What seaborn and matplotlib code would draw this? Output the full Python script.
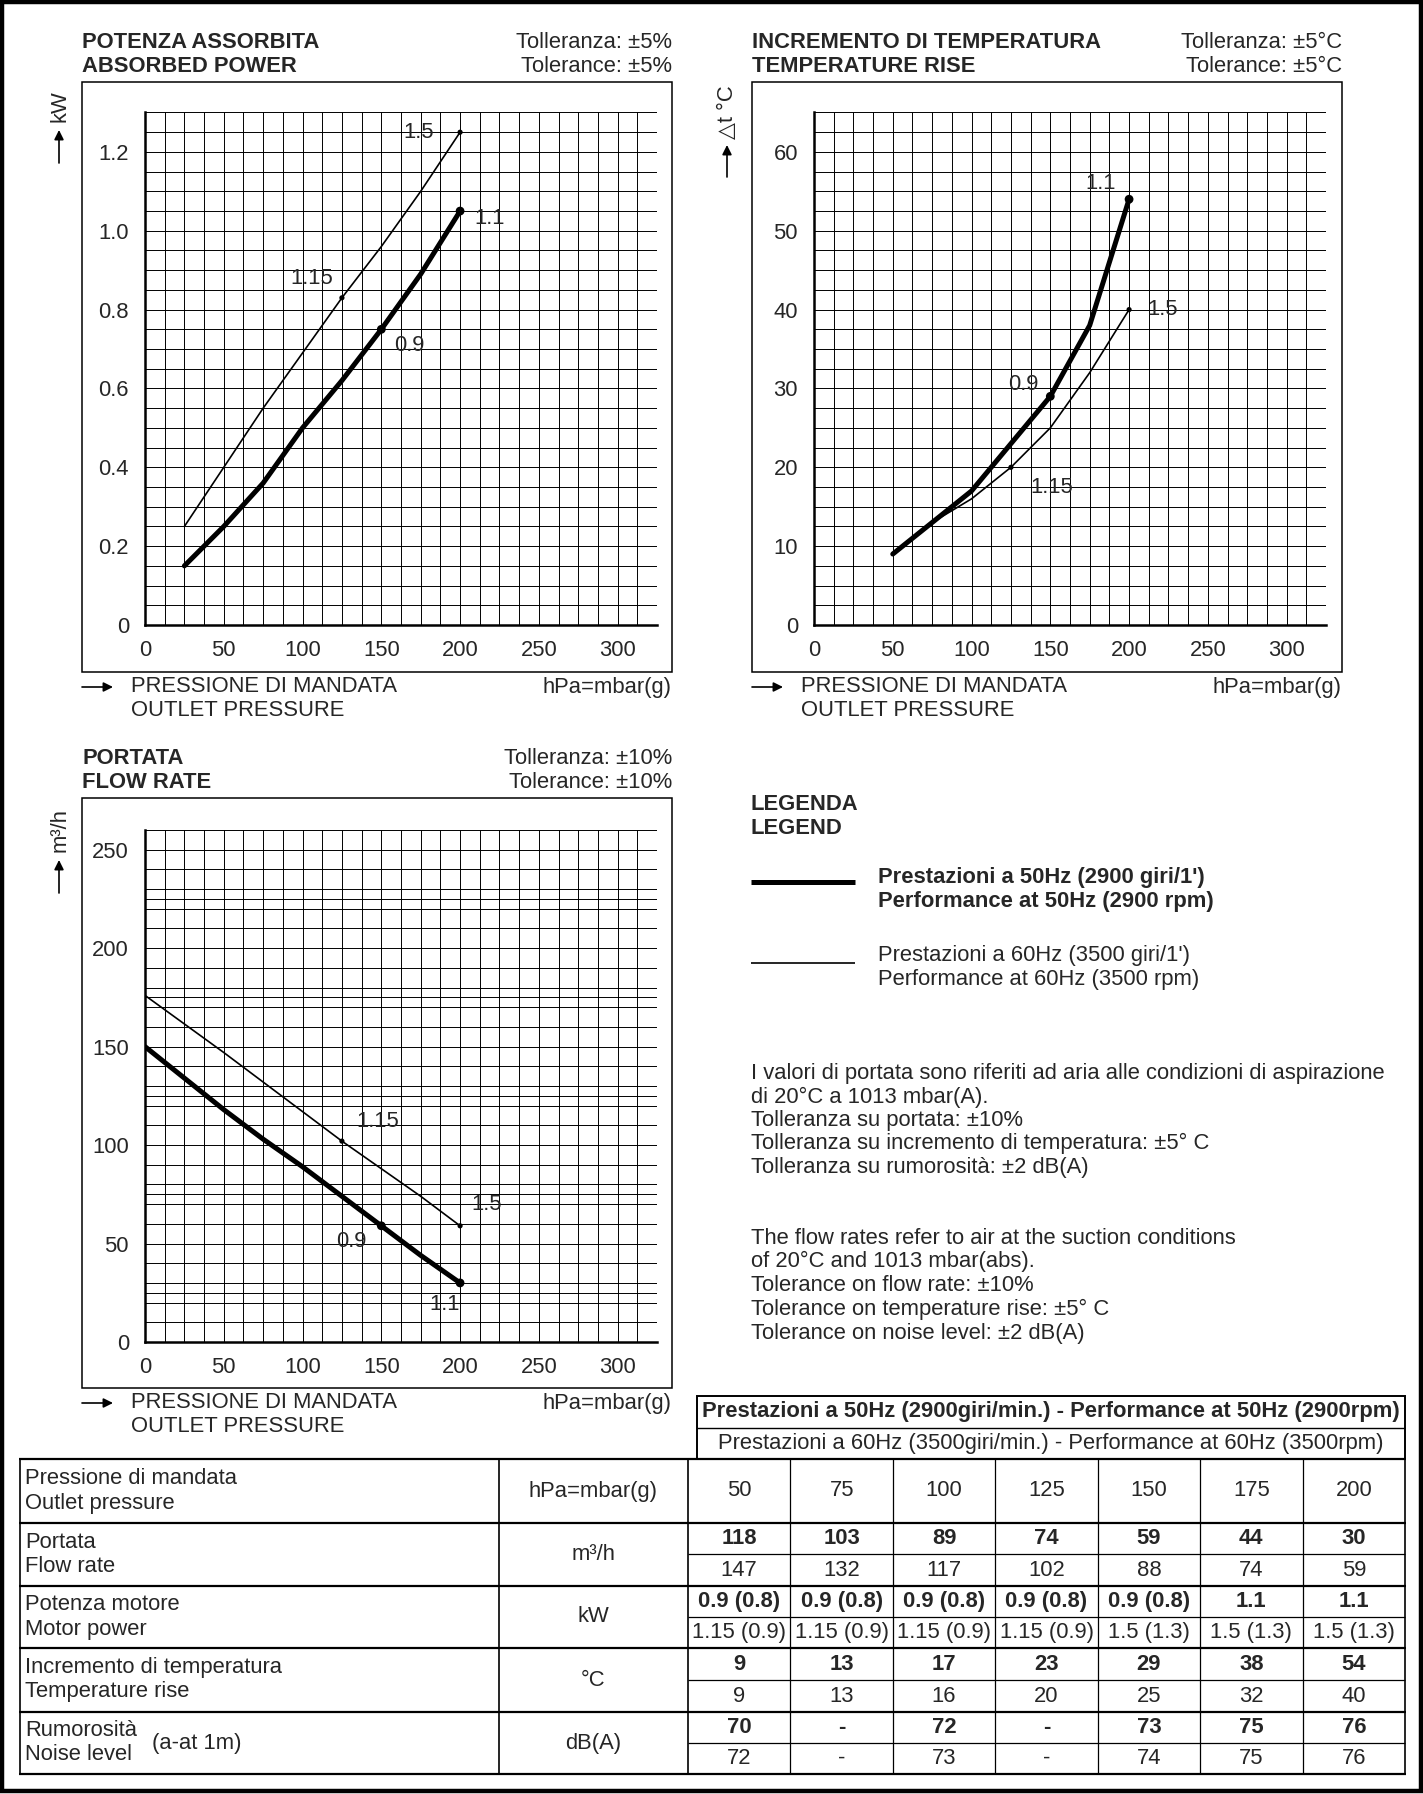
import matplotlib
matplotlib.use("Agg")
import matplotlib.pyplot as plt
import numpy as np
import pandas as pd
import seaborn as sns
from matplotlib.patches import Rectangle

W, H = 1423, 1794

# ---- curve data ----
power_pressure = [25, 50, 75, 100, 125, 150, 175, 200]
power_50 = [0.15, 0.25, 0.36, 0.50, 0.62, 0.75, 0.89, 1.05]
power_60 = [0.25, 0.40, 0.55, 0.69, 0.83, 0.96, 1.10, 1.25]

temp_pressure = [50, 75, 100, 125, 150, 175, 200]
temp_50 = [9, 13, 17, 23, 29, 38, 54]
temp_60 = [9, 13, 16, 20, 25, 32, 40]

flow_pressure = [0, 50, 75, 100, 125, 150, 175, 200]
flow_50 = [150, 118, 103, 89, 74, 59, 44, 30]
flow_60 = [176, 147, 132, 117, 102, 88, 74, 59]

# pressures where the motor size changes (dots on the curves)
dots_50 = [150, 200]
dots_60 = [125, 200]

# motor size labels: (pressure, value, text)
power_labels = [(174, 1.25, "1.5"), (219, 1.03, "1.1"), (106, 0.88, "1.15"), (168, 0.71, "0.9")]
temp_labels = [(182, 56, "1.1"), (221, 40, "1.5"), (133, 30.5, "0.9"), (151, 17.5, "1.15")]
flow_labels = [(148, 112, "1.15"), (217, 70, "1.5"), (131, 51, "0.9"), (190, 19, "1.1")]

# ---- table data ----
table_pressure = ["50", "75", "100", "125", "150", "175", "200"]
table_flow_50 = ["118", "103", "89", "74", "59", "44", "30"]
table_flow_60 = ["147", "132", "117", "102", "88", "74", "59"]
table_motor_50 = ["0.9 (0.8)", "0.9 (0.8)", "0.9 (0.8)", "0.9 (0.8)", "0.9 (0.8)", "1.1", "1.1"]
table_motor_60 = ["1.15 (0.9)", "1.15 (0.9)", "1.15 (0.9)", "1.15 (0.9)", "1.5 (1.3)", "1.5 (1.3)", "1.5 (1.3)"]
table_temp_50 = ["9", "13", "17", "23", "29", "38", "54"]
table_temp_60 = ["9", "13", "16", "20", "25", "32", "40"]
table_noise_50 = ["70", "-", "72", "-", "73", "75", "76"]
table_noise_60 = ["72", "-", "73", "-", "74", "75", "76"]

sns.set_style("white")
plt.rcParams["font.family"] = ["Liberation Sans", "DejaVu Sans"]
FS = 15.8

fig = plt.figure(figsize=(W / 100, H / 100), dpi=100)

# overlay in pixel coordinates for frames, texts and table
ov = fig.add_axes([0, 0, 1, 1])
ov.set_xlim(0, W)
ov.set_ylim(H, 0)
ov.axis("off")


def txt(x, y, s, **kw):
    kw.setdefault("fontsize", FS)
    kw.setdefault("va", "center")
    ov.text(x, y, s, **kw)


def hline(x0, x1, y, lw=1.0):
    ov.plot([x0, x1], [y, y], color="black", lw=lw, solid_capstyle="butt")


def vline(x, y0, y1, lw=1.0):
    ov.plot([x, x], [y0, y1], color="black", lw=lw, solid_capstyle="butt")


def arrow(x0, y0, x1, y1):
    ov.annotate("", xy=(x1, y1), xytext=(x0, y0),
                arrowprops=dict(arrowstyle="-|>", color="black", lw=1.2,
                                mutation_scale=14, shrinkA=0, shrinkB=0))


def chart(box, axbox, title, tol, x, y50, y60, ymax, ystep, ytick_step,
          ylabel_step, yfmt, labels):
    bl, bt, br, bb = box
    ov.add_patch(Rectangle((bl, bt), br - bl, bb - bt, fill=False, lw=1.1, ec="black"))
    txt(bl, bt - 39, title[0], fontweight="bold")
    txt(bl, bt - 16, title[1], fontweight="bold")
    txt(br, bt - 39, "Tolleranza: " + tol, ha="right")
    txt(br, bt - 16, "Tolerance: " + tol, ha="right")
    # x label under the box
    arrow(bl, bb + 15, bl + 31, bb + 15)
    txt(bl + 49, bb + 15, "PRESSIONE DI MANDATA")
    txt(bl + 49, bb + 39, "OUTLET PRESSURE")
    txt(br, bb + 15, "hPa=mbar(g)", ha="right")

    l, t, r, b = axbox
    ax = fig.add_axes([l / W, 1 - b / H, (r - l) / W, (b - t) / H])
    ax.set_facecolor("white")
    df = pd.DataFrame({"p": x, "v50": y50, "v60": y60})
    sns.lineplot(data=df, x="p", y="v60", ax=ax, color="black", lw=1.2, zorder=3)
    sns.lineplot(data=df, x="p", y="v50", ax=ax, color="black", lw=3.6, zorder=4)
    d50 = df[df["p"].isin(dots_50)]
    d60 = df[df["p"].isin(dots_60)]
    sns.scatterplot(data=d50, x="p", y="v50", ax=ax, color="black", s=40, zorder=5, edgecolor="none")
    sns.scatterplot(data=d60, x="p", y="v60", ax=ax, color="black", s=14, zorder=5, edgecolor="none")
    for lx, ly, s in labels:
        ax.text(lx, ly, s, fontsize=FS, ha="center", va="center", zorder=6)

    ax.set_xlim(0, 325)
    ax.set_ylim(0, ymax)
    xt = np.arange(0, 326, 25)
    ax.set_xticks(xt)
    ax.set_xticklabels([f"{v:g}" if v % 50 == 0 and v <= 300 else "" for v in xt])
    ax.set_xticks(np.arange(0, 325.1, 12.5), minor=True)
    yt = np.round(np.arange(0, ymax + 1e-9, ytick_step), 6)
    ax.set_yticks(yt)
    ylabels = []
    for v in yt:
        k = v / ylabel_step
        ylabels.append(yfmt(v) if abs(k - round(k)) < 1e-6 else "")
    ax.set_yticklabels(ylabels)
    ax.set_yticks(np.arange(0, ymax + 1e-9, ystep), minor=True)
    ax.grid(which="both", color="black", lw=0.7)
    ax.tick_params(axis="x", which="major", direction="out", length=6, width=0.8,
                   pad=5, labelsize=FS, color="black")
    ax.tick_params(axis="y", which="major", direction="out", length=7.5, width=0.8,
                   pad=4, labelsize=FS, color="black")
    ax.tick_params(which="minor", length=0)
    for side in ["top", "right"]:
        ax.spines[side].set_visible(False)
    for side in ["left", "bottom"]:
        ax.spines[side].set_linewidth(1.8)
        ax.spines[side].set_color("black")
    ax.set_xlabel("")
    ax.set_ylabel("")
    return ax


chart((82, 82, 672, 672), (145, 112.5, 657, 625),
      ("POTENZA ASSORBITA", "ABSORBED POWER"), "±5%",
      power_pressure, power_50, power_60, 1.3, 0.05, 0.1, 0.2,
      lambda v: "0" if v == 0 else f"{v:.1f}", power_labels)
chart((752, 82, 1342, 672), (814, 112.5, 1326, 625),
      ("INCREMENTO DI TEMPERATURA", "TEMPERATURE RISE"), "±5°C",
      temp_pressure, temp_50, temp_60, 65, 2.5, 5, 10,
      lambda v: f"{v:g}", temp_labels)
chart((82, 798, 672, 1388), (145, 830, 657, 1342),
      ("PORTATA", "FLOW RATE"), "±10%",
      flow_pressure, flow_50, flow_60, 260, 10, 25, 50,
      lambda v: f"{v:g}", flow_labels)

# y axis labels with arrows
arrow(59, 163, 59, 130)
txt(60, 106, "kW", rotation=90, ha="center")
arrow(727, 177, 727, 145)
txt(728, 112, "△t °C", rotation=90, ha="center")
arrow(59, 893, 59, 860)
txt(60, 830, "m³/h", rotation=90, ha="center")

# legend block
txt(751, 805, "LEGENDA", fontweight="bold")
txt(751, 829, "LEGEND", fontweight="bold")
hline(751, 855, 882, lw=3.6)
txt(878, 877, "Prestazioni a 50Hz (2900 giri/1')", fontweight="bold")
txt(878, 901, "Performance at 50Hz (2900 rpm)", fontweight="bold")
hline(751, 855, 963, lw=1.2)
txt(878, 955, "Prestazioni a 60Hz (3500 giri/1')")
txt(878, 979, "Performance at 60Hz (3500 rpm)")

notes_it = ["I valori di portata sono riferiti ad aria alle condizioni di aspirazione",
            "di 20°C a 1013 mbar(A).",
            "Tolleranza su portata: ±10%",
            "Tolleranza su incremento di temperatura: ±5° C",
            "Tolleranza su rumorosità: ±2 dB(A)"]
notes_en = ["The flow rates refer to air at the suction conditions",
            "of 20°C and 1013 mbar(abs).",
            "Tolerance on flow rate: ±10%",
            "Tolerance on temperature rise: ±5° C",
            "Tolerance on noise level: ±2 dB(A)"]
for i, s in enumerate(notes_it):
    txt(751, 1074 + i * 23.3, s)
for i, s in enumerate(notes_en):
    txt(751, 1238 + i * 23.8, s)

# ---- table ----
tx0, tx_unit, tx_val, tx1 = 20, 499, 688, 1405
row_y = [1459, 1523, 1586, 1648, 1712, 1774]
col_x = np.linspace(tx_val, tx1, len(table_pressure) + 1)

# header box
ov.add_patch(Rectangle((697, 1396), tx1 - 697, 1459 - 1396, fill=False, lw=1.4, ec="black"))
hline(697, tx1, 1428, lw=1.0)
txt((697 + tx1) / 2, 1412, "Prestazioni a 50Hz (2900giri/min.) - Performance at 50Hz (2900rpm)",
    ha="center", fontweight="bold", fontsize=FS)
txt((697 + tx1) / 2, 1444, "Prestazioni a 60Hz (3500giri/min.) - Performance at 60Hz (3500rpm)",
    ha="center", fontsize=FS)

for y in row_y:
    hline(tx0 - 1, tx1 + 1, y, lw=1.6)
for y0, y1 in zip(row_y[1:-1], row_y[2:]):
    hline(tx_val, tx1, (y0 + y1) / 2, lw=0.9)
for x in [tx0, tx_unit, tx_val, tx1]:
    vline(x, row_y[0], row_y[-1], lw=1.2)
for x in col_x[1:-1]:
    vline(x, row_y[0], row_y[-1], lw=0.9)

row_names = [("Pressione di mandata", "Outlet pressure"), ("Portata", "Flow rate"),
             ("Potenza motore", "Motor power"), ("Incremento di temperatura", "Temperature rise"),
             ("Rumorosità", "Noise level")]
row_units = ["hPa=mbar(g)", "m³/h", "kW", "°C", "dB(A)"]
for i, (a, b) in enumerate(row_names):
    yc = (row_y[i] + row_y[i + 1]) / 2
    txt(25, yc - 12, a)
    txt(25, yc + 12, b)
    txt((tx_unit + tx_val) / 2, yc, row_units[i], ha="center")
txt(152, (row_y[4] + row_y[5]) / 2, "(a-at 1m)")

centers = (col_x[:-1] + col_x[1:]) / 2
for j, v in enumerate(table_pressure):
    txt(centers[j], (row_y[0] + row_y[1]) / 2, v, ha="center")
pairs = [(table_flow_50, table_flow_60), (table_motor_50, table_motor_60),
         (table_temp_50, table_temp_60), (table_noise_50, table_noise_60)]
for i, (top, bot) in enumerate(pairs):
    y0, y1 = row_y[i + 1], row_y[i + 2]
    ym = (y0 + y1) / 2
    for j in range(len(top)):
        txt(centers[j], (y0 + ym) / 2, top[j], ha="center", fontweight="bold")
        txt(centers[j], (ym + y1) / 2, bot[j], ha="center")

# outer frame
ov.add_patch(Rectangle((2, 2), W - 4, H - 5, fill=False, lw=3.2, ec="black"))

fig.savefig("out.png", dpi=100)
